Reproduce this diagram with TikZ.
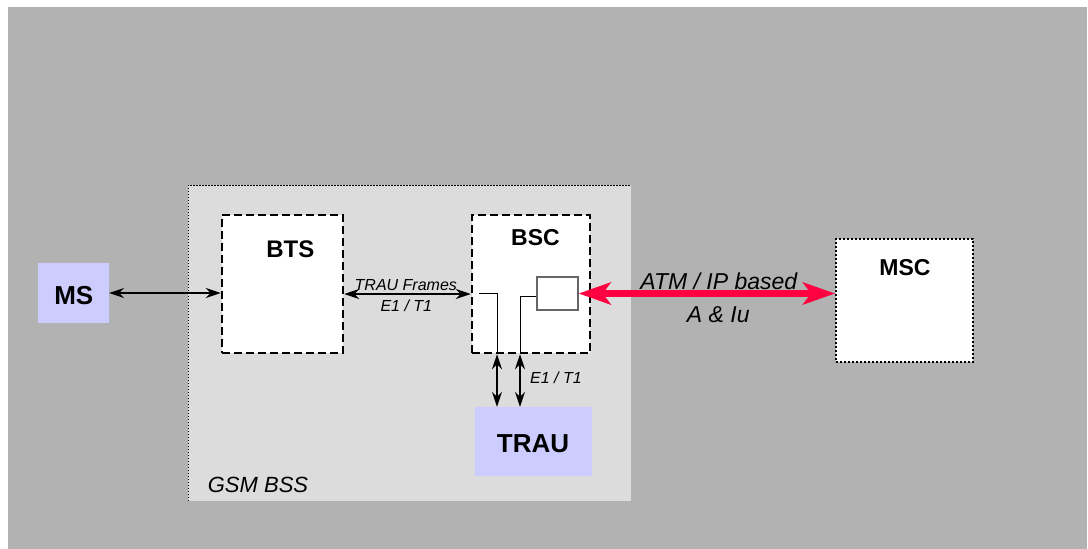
\documentclass[tikz,border=0pt]{standalone}
\usepackage{fontspec}
\setmainfont{Liberation Sans}
\usetikzlibrary{arrows.meta}
\definecolor{bgray}{HTML}{B2B2B2}
\definecolor{lgray}{HTML}{DCDCDC}
\definecolor{lblue}{HTML}{CCCCFF}
\definecolor{atmred}{RGB}{255,0,64}
\definecolor{subgray}{HTML}{666666}
\tikzset{
  dashbox/.style={draw=black, fill=white, line width=2.5pt, dash pattern=on 8pt off 4pt, inner sep=0pt},
  dotbox/.style={draw=black, fill=white, line width=2pt, dash pattern=on 2pt off 2pt, inner sep=0pt},
  bluebox/.style={fill=lblue, inner sep=0pt},
  boldlbl/.style={font=\bfseries, anchor=base, inner sep=0pt},
  itlbl/.style={font=\itshape, anchor=base, inner sep=0pt},
  blk/.style={line width=1.2pt, {Stealth[length=15pt,width=10pt,inset=5pt]}-{Stealth[length=15pt,width=10pt,inset=5pt]}},
  redarr/.style={draw=atmred, line width=7pt, {Stealth[length=32pt,width=22pt,inset=8pt]}-{Stealth[length=32pt,width=22pt,inset=8pt]}},
}
\begin{document}
\begin{tikzpicture}[x=1pt,y=-1pt]
\useasboundingbox (0,0) rectangle (1088,549);
\fill[white] (0,0) rectangle (1088,549);
\fill[bgray] (8,7) rectangle (1087,549);
% GSM BSS area
\fill[lgray] (188,185) rectangle (631,501);
\draw[line width=0.8pt, dash pattern=on 1.5pt off 1.5pt] (188,501) -- (188,185) -- (631,185);
\node[itlbl, font=\fontsize{22}{26}\selectfont\itshape] (gsmlbl) at (258,492) {GSM BSS};
% boxes
\node[dashbox, minimum width=121pt, minimum height=138pt] (bts) at (282.5,284) {};
\node[dashbox, minimum width=118pt, minimum height=138pt] (bsc) at (531,284) {};
\node[dotbox, minimum width=137pt, minimum height=123pt] (msc) at (904.5,300.5) {};
\node[bluebox, minimum width=71pt, minimum height=60pt] (ms) at (73.5,293) {};
\node[bluebox, minimum width=117pt, minimum height=69pt] (trau) at (533.5,441.5) {};
\node[draw=subgray, fill=white, line width=1.3pt, minimum width=41pt, minimum height=33pt, inner sep=0pt] (sub) at (557.5,293.5) {};
% labels in boxes
\node[boldlbl, font=\fontsize{24}{28}\selectfont\bfseries] (btslbl) at (290.3,257.3) {BTS};
\node[boldlbl, font=\fontsize{23}{27}\selectfont\bfseries] (bsclbl) at (535.5,245.7) {BSC};
\node[boldlbl, font=\fontsize{23}{27}\selectfont\bfseries] (msclbl) at (905,275.7) {MSC};
\node[boldlbl, font=\fontsize{26}{30}\selectfont\bfseries] (mslbl) at (73.8,304) {MS};
\node[boldlbl, font=\fontsize{26}{30}\selectfont\bfseries] (traulbl) at (533,452) {TRAU};
% inner lines in BSC
\coordinate (l1) at (479,293);
\coordinate (l2) at (497,353);
\coordinate (l3) at (520,353);
\draw[line width=1pt] (l1) -| (l2);
\draw[line width=1pt] (sub.west |- 0,296) -| (l3);
% connectors
\draw[blk] (ms.east) -- (ms.east -| bts.west);
\draw[blk] (bts.east |- 0,294) -- (bsc.west |- 0,294);
\draw[blk] (bsc.south -| l2) -- (trau.north -| l2);
\draw[blk] (bsc.south -| l3) -- (trau.north -| l3);
\draw[redarr] (sub.east) -- (sub.east -| msc.west);
% connector labels
\node[itlbl, font=\fontsize{16}{19}\selectfont\itshape] (trauf) at (405.8,290) {TRAU Frames};
\node[itlbl, font=\fontsize{16}{19}\selectfont\itshape] (e1a) at (406.3,311.7) {E1 / T1};
\node[itlbl, font=\fontsize{16}{19}\selectfont\itshape] (e1b) at (556,383.3) {E1 / T1};
\node[itlbl, font=\fontsize{23}{27}\selectfont\itshape] (atm) at (718.8,289.3) {ATM / IP based};
\node[itlbl, font=\fontsize{23}{27}\selectfont\itshape] (aiu) at (718.3,322.3) {A \& Iu};
\end{tikzpicture}
\end{document}
